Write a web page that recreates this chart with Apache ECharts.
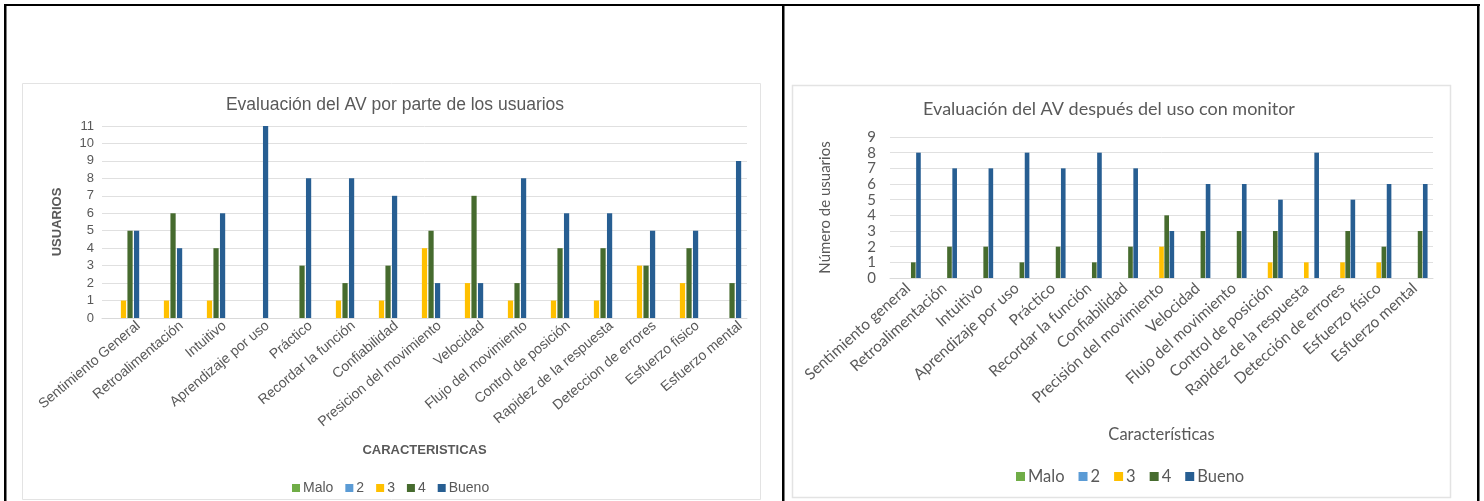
<!DOCTYPE html>
<html>
<head>
<meta charset="utf-8">
<title>Evaluación del AV</title>
<script src="https://cdn.jsdelivr.net/npm/echarts@6/dist/echarts.min.js"></script>
<style>
  html, body { margin: 0; padding: 0; background: #ffffff; }
  #chart { width: 1484px; height: 501px; }
</style>
</head>
<body>
<div id="chart"></div>
<script>
// Evaluation categories, one list per chart
const categoriasUsuarios = [
  'Sentimiento General', 'Retroalimentación', 'Intuitivo', 'Aprendizaje por uso',
  'Práctico', 'Recordar la función', 'Confiabilidad', 'Presicion del movimiento',
  'Velocidad', 'Flujo del movimiento', 'Control de posición', 'Rapidez de la respuesta',
  'Deteccion de errores', 'Esfuerzo fisico', 'Esfuerzo mental'
];
const categoriasMonitor = [
  'Sentimiento general', 'Retroalimentación', 'Intuitivo', 'Aprendizaje por uso',
  'Práctico', 'Recordar la función', 'Confiabilidad', 'Precisión del movimiento',
  'Velocidad', 'Flujo del movimiento', 'Control de posición', 'Rapidez de la respuesta',
  'Detección de errores', 'Esfuerzo físico', 'Esfuerzo mental'
];

// Rating scale names (legend)
const escala = ['Malo', '2', '3', '4', 'Bueno'];

// Users' evaluation (number of users per rating)
const usuariosMalo  = [0, 0, 0, 0, 0, 0, 0, 0, 0, 0, 0, 0, 0, 0, 0];
const usuarios2     = [0, 0, 0, 0, 0, 0, 0, 0, 0, 0, 0, 0, 0, 0, 0];
const usuarios3     = [1, 1, 1, 0, 0, 1, 1, 4, 2, 1, 1, 1, 3, 2, 0];
const usuarios4     = [5, 6, 4, 0, 3, 2, 3, 5, 7, 2, 4, 4, 3, 4, 2];
const usuariosBueno = [5, 4, 6, 11, 8, 8, 7, 2, 2, 8, 6, 6, 5, 5, 9];

// Evaluation after using the monitor
const monitorMalo  = [0, 0, 0, 0, 0, 0, 0, 0, 0, 0, 0, 0, 0, 0, 0];
const monitor2     = [0, 0, 0, 0, 0, 0, 0, 0, 0, 0, 0, 0, 0, 0, 0];
const monitor3     = [0, 0, 0, 0, 0, 0, 0, 2, 0, 0, 1, 1, 1, 1, 0];
const monitor4     = [1, 2, 2, 1, 2, 1, 2, 4, 3, 3, 3, 0, 3, 2, 3];
const monitorBueno = [8, 7, 7, 8, 7, 8, 7, 3, 6, 6, 5, 8, 5, 6, 6];

// Y axis ranges
const maxUsuarios = 11;
const maxMonitor = 9;

const colores = ['#70ad47', '#5b9bd5', '#ffc000', '#466b2e', '#275e92'];
const gris = '#595959';
const fuenteA = 'Liberation Sans, Arial, sans-serif';
const fuenteB = 'Lato, "Open Sans", sans-serif';

const datosUsuarios = [usuariosMalo, usuarios2, usuarios3, usuarios4, usuariosBueno];
const datosMonitor = [monitorMalo, monitor2, monitor3, monitor4, monitorBueno];

function barras(datos, idx, catGap, gap) {
  return datos.map((d, i) => ({
    name: escala[i],
    type: 'bar',
    xAxisIndex: idx,
    yAxisIndex: idx,
    data: d,
    barGap: gap,
    barCategoryGap: catGap,
    itemStyle: { color: colores[i] },
    emphasis: { disabled: true }
  }));
}

const chart = echarts.init(document.getElementById('chart'), null, { renderer: 'canvas' });

chart.setOption({
  animation: false,
  backgroundColor: '#ffffff',
  color: colores,
  graphic: [
    // table borders
    { type: 'rect', shape: { x: 4, y: 4, width: 1476, height: 2 }, style: { fill: '#000' } },
    { type: 'rect', shape: { x: 4, y: 4, width: 2.5, height: 497 }, style: { fill: '#000' } },
    { type: 'rect', shape: { x: 782, y: 4, width: 2.5, height: 497 }, style: { fill: '#000' } },
    { type: 'rect', shape: { x: 1477, y: 4, width: 2.5, height: 497 }, style: { fill: '#000' } },
    // chart frames
    { type: 'rect', shape: { x: 22.5, y: 83.5, width: 738, height: 416 },
      style: { fill: 'none', stroke: '#e3e3e3', lineWidth: 1 } },
    { type: 'rect', shape: { x: 792.5, y: 85.5, width: 658, height: 412 },
      style: { fill: 'none', stroke: '#e3e3e3', lineWidth: 1.5 } }
  ],
  title: [
    {
      text: 'Evaluación del AV por parte de los usuarios',
      left: 390, top: 91, textAlign: 'center',
      textStyle: { fontFamily: fuenteA, fontSize: 17.5, fontWeight: 'normal', color: gris }
    },
    {
      text: 'Evaluación del AV después del uso con monitor',
      left: 1104, top: 95, textAlign: 'center',
      textStyle: { fontFamily: fuenteB, fontSize: 18, fontWeight: 'normal', color: gris }
    }
  ],
  legend: [
    {
      data: escala, left: 287, top: 476, itemWidth: 8, itemHeight: 8, itemGap: 12,
      icon: 'rect',
      textStyle: { fontFamily: fuenteA, fontSize: 14, color: gris, padding: [0, 0, 0, -2] },
      selectedMode: false
    },
    {
      data: escala, left: 1011, top: 463, itemWidth: 9, itemHeight: 9, itemGap: 14,
      icon: 'rect',
      textStyle: { fontFamily: fuenteB, fontSize: 16.5, color: gris, padding: [0, 0, 0, -2] },
      selectedMode: false
    }
  ],
  grid: [
    { left: 102, right: 737, top: 126, bottom: 183 },
    { left: 890, right: 51, top: 137, bottom: 223 },
    // label band for the first chart, offset to the right of the category centres
    { left: 117, right: 722, top: 126, bottom: 183 }
  ],
  xAxis: [
    {
      type: 'category', gridIndex: 0, data: categoriasUsuarios,
      name: 'CARACTERISTICAS', nameLocation: 'middle', nameGap: 126,
      nameTextStyle: { fontFamily: fuenteA, fontSize: 13, fontWeight: 'bold', color: gris },
      axisTick: { show: false },
      axisLine: { lineStyle: { color: '#d9d9d9' } },
      axisLabel: { show: false }
    },
    {
      type: 'category', gridIndex: 1, data: categoriasMonitor,
      name: 'Características', nameLocation: 'middle', nameGap: 148,
      nameTextStyle: { fontFamily: fuenteB, fontSize: 16.5, color: gris },
      axisTick: { show: false },
      axisLine: { lineStyle: { color: '#d9d9d9' } },
      axisLabel: { interval: 0, rotate: 42, margin: 8, fontFamily: fuenteB, fontSize: 15.5, color: gris }
    },
    {
      type: 'category', gridIndex: 2, data: categoriasUsuarios,
      axisTick: { show: false },
      axisLine: { show: false },
      axisLabel: { interval: 0, rotate: 40, margin: 6, fontFamily: fuenteA, fontSize: 14, color: gris }
    }
  ],
  yAxis: [
    {
      type: 'value', gridIndex: 0, min: 0, max: maxUsuarios, interval: 1,
      name: 'USUARIOS', nameLocation: 'middle', nameGap: 38, nameRotate: 90,
      nameTextStyle: { fontFamily: fuenteA, fontSize: 13, fontWeight: 'bold', color: gris },
      axisLine: { show: false }, axisTick: { show: false },
      splitLine: { lineStyle: { color: '#e0e0e0' } },
      axisLabel: { margin: 8, showMinLabel: true, showMaxLabel: true, hideOverlap: false,
        fontFamily: fuenteA, fontSize: 13, color: gris }
    },
    {
      type: 'value', gridIndex: 1, min: 0, max: maxMonitor, interval: 1,
      name: 'Número de usuarios', nameLocation: 'middle', nameGap: 57, nameRotate: 90,
      nameTextStyle: { fontFamily: fuenteB, fontSize: 15, color: gris },
      axisLine: { show: false }, axisTick: { show: false },
      splitLine: { lineStyle: { color: '#e0e0e0' } },
      axisLabel: { margin: 14, showMinLabel: true, showMaxLabel: true, hideOverlap: false,
        fontFamily: fuenteB, fontSize: 15, color: gris }
    },
    {
      type: 'value', gridIndex: 2, min: 0, max: maxUsuarios, show: false
    }
  ],
  series: [].concat(
    barras(datosUsuarios, 0, '27%', '25%'),
    barras(datosMonitor, 1, '30%', '12%')
  )
});
</script>
</body>
</html>
